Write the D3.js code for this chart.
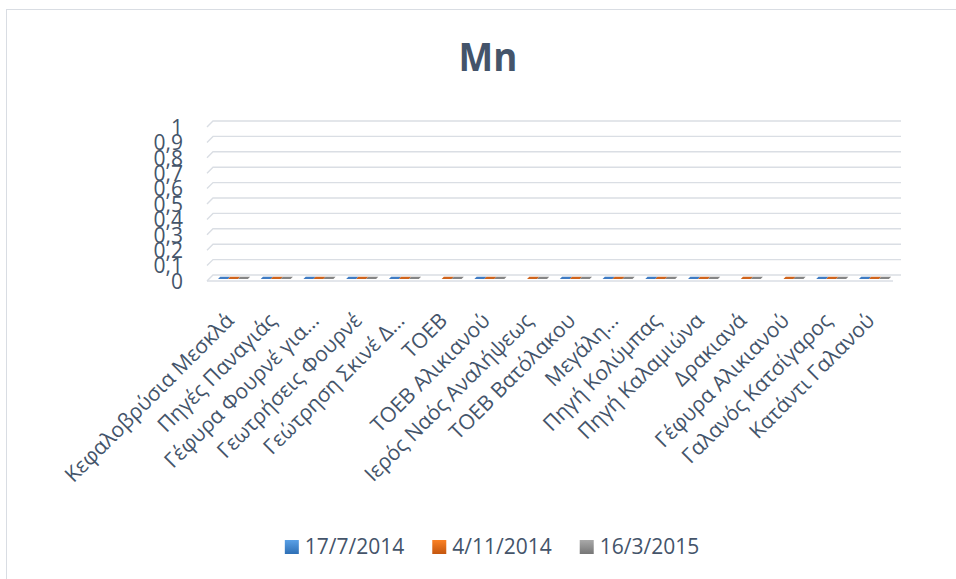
<!DOCTYPE html>
<html>
<head>
<meta charset="utf-8">
<script src="https://cdn.jsdelivr.net/npm/d3@7"></script>
<style>
  html, body { margin: 0; padding: 0; background: #fff; }
  svg { display: block; }
  text { font-family: "Open Sans", "Noto Sans", sans-serif; fill: #44546a; }
</style>
</head>
<body>
<svg id="chart" width="956" height="579"></svg>
<script>
// ---------- data ----------
const title = "Mn";
const categories = [
  "Κεφαλοβρύσια Μεσκλά",
  "Πηγές Παναγιάς",
  "Γέφυρα Φουρνέ για…",
  "Γεωτρήσεις Φουρνέ",
  "Γεώτρηση Σκινέ Δ…",
  "ΤΟΕΒ",
  "ΤΟΕΒ Αλικιανού",
  "Ιερός Ναός Αναλήψεως",
  "ΤΟΕΒ Βατόλακου",
  "Μεγάλη…",
  "Πηγή Κολύμπας",
  "Πηγή Καλαμιώνα",
  "Δρακιανά",
  "Γέφυρα Αλικιανού",
  "Γαλανός Κατσίγαρος",
  "Κατάντι Γαλανού"
];
const seriesNames = ["17/7/2014", "4/11/2014", "16/3/2015"];
const valuesJul2014 = [0, 0, 0, 0, 0, null, 0, null, 0, 0, 0, 0, null, null, 0, 0];
const valuesNov2014 = [0, 0, 0, 0, 0, 0, 0, 0, 0, 0, 0, 0, 0, 0, 0, 0];
const valuesMar2015 = [0, 0, 0, 0, 0, 0, 0, 0, 0, 0, 0, 0, 0, 0, 0, 0];
const yTicks = [0, 0.1, 0.2, 0.3, 0.4, 0.5, 0.6, 0.7, 0.8, 0.9, 1];
const yTickLabels = ["0", "0,1", "0,2", "0,3", "0,4", "0,5", "0,6", "0,7", "0,8", "0,9", "1"];

const seriesValues = [valuesJul2014, valuesNov2014, valuesMar2015];
const barColors = ["#3f7cc4", "#d0641c", "#858585"];
const legendTop = [["#5aa0e6", "#2e6fb5"], ["#fb8124", "#c4560e"], ["#a9a9a9", "#767676"]];

// ---------- layout ----------
const svg = d3.select("#chart");
const textColor = "#44546a";
const gridColor = "#dadee4";
const depth = 6;                 // 3D depth offset
const wallLeft = 213, wallRight = 901;
const floorFrontLeft = 207, floorFrontRight = 893;

const y = d3.scaleLinear().domain([0, 1]).range([275, 121]);
const x0 = d3.scaleBand().domain(categories).range([211.6, 895.3]).paddingInner(0).paddingOuter(0);
const x1 = d3.scaleBand().domain(seriesNames).range([x0.bandwidth() * 0.15, x0.bandwidth() * 0.85]).padding(0);

// chart border
svg.append("rect").attr("x", 6.5).attr("y", 9.5).attr("width", 1000).attr("height", 700)
  .attr("fill", "none").attr("stroke", "#d9dde3").attr("stroke-width", 1);

// title
svg.append("text").attr("transform", "translate(488,71) scale(0.92,1)").attr("text-anchor", "middle")
  .style("font-size", "40px").style("font-weight", "bold").text(title);

// gridlines (back wall + left slant)
const grid = svg.append("g");
yTicks.forEach(t => {
  if (t === 0) return;
  grid.append("path")
    .attr("d", `M${floorFrontLeft},${y(t) + depth} L${wallLeft},${y(t)} L${wallRight},${y(t)}`)
    .attr("fill", "none").attr("stroke", gridColor).attr("stroke-width", 1.4);
});
// floor
grid.append("path")
  .attr("d", `M${floorFrontLeft},${y(0) + depth} L${wallLeft},${y(0)} L${wallRight},${y(0)}`)
  .attr("fill", "none").attr("stroke", gridColor).attr("stroke-width", 1.4);
grid.append("path")
  .attr("d", `M${floorFrontLeft},${y(0) + depth} L${floorFrontRight},${y(0) + depth}`)
  .attr("fill", "none").attr("stroke", gridColor).attr("stroke-width", 1.6);

// y axis labels
const yAxis = d3.axisLeft(y).tickValues(yTicks)
  .tickFormat((d, i) => yTickLabels[i]).tickSize(0).tickPadding(0);
const yg = svg.append("g").attr("transform", `translate(183,${depth})`).call(yAxis);
yg.select(".domain").remove();
yg.selectAll("text").style("font-size", "21px").style("font-family", "'Open Sans', sans-serif")
  .attr("fill", textColor).attr("dy", "0.35em");

// bars (zero-height 3D columns drawn as their top faces)
const barsG = svg.append("g");
categories.forEach((c, ci) => {
  seriesValues.forEach((vals, si) => {
    const v = vals[ci];
    if (v === null || v === undefined) return;
    const bx = x0(c) + x1(seriesNames[si]);
    const bw = x1.bandwidth();
    const yTop = y(v);
    const yFront = yTop + 4;
    const yBack = yTop + 1.8;
    const sh = yFront - yBack;
    barsG.append("path")
      .attr("d", `M${bx},${yFront} L${bx + bw},${yFront} L${bx + bw + sh},${yBack} L${bx + sh},${yBack} Z`)
      .attr("fill", barColors[si]);
    barsG.append("rect").attr("x", bx).attr("y", yFront)
      .attr("width", bw).attr("height", Math.max(0, y(0) - yTop))
      .attr("fill", barColors[si]);
  });
});

// category axis labels
const xAxis = d3.axisBottom(x0).tickSize(0).tickPadding(0);
const xg = svg.append("g").attr("transform", "translate(0,0)").call(xAxis);
xg.select(".domain").remove();
xg.selectAll("text")
  .attr("x", 0).attr("y", 0).attr("dy", 0)
  .attr("text-anchor", "end")
  .attr("transform", "translate(2,322) rotate(-45)")
  .style("font-size", "21px").style("font-family", "'Open Sans', sans-serif")
  .attr("fill", textColor);

// legend
const legend = svg.append("g");
const defs = svg.append("defs");
legendTop.forEach((cols, i) => {
  const g = defs.append("linearGradient").attr("id", "lg" + i).attr("x1", 0).attr("y1", 0).attr("x2", 0).attr("y2", 1);
  g.append("stop").attr("offset", "0%").attr("stop-color", cols[0]);
  g.append("stop").attr("offset", "100%").attr("stop-color", cols[1]);
});
let cursor = 0;
seriesNames.forEach((name, i) => {
  const g = legend.append("g");
  g.append("rect").attr("x", 0).attr("y", -7).attr("width", 14).attr("height", 14).attr("fill", `url(#lg${i})`);
  const t = g.append("text").attr("x", 20).attr("y", 0).attr("dy", "0.35em")
    .style("font-size", "21px").text(name);
  const w = 20 + t.node().getComputedTextLength();
  g.attr("transform", `translate(${cursor},0)`);
  cursor += w + 28;
});
const total = cursor - 28;
legend.attr("transform", `translate(${492 - total / 2},547)`);
</script>
</body>
</html>
